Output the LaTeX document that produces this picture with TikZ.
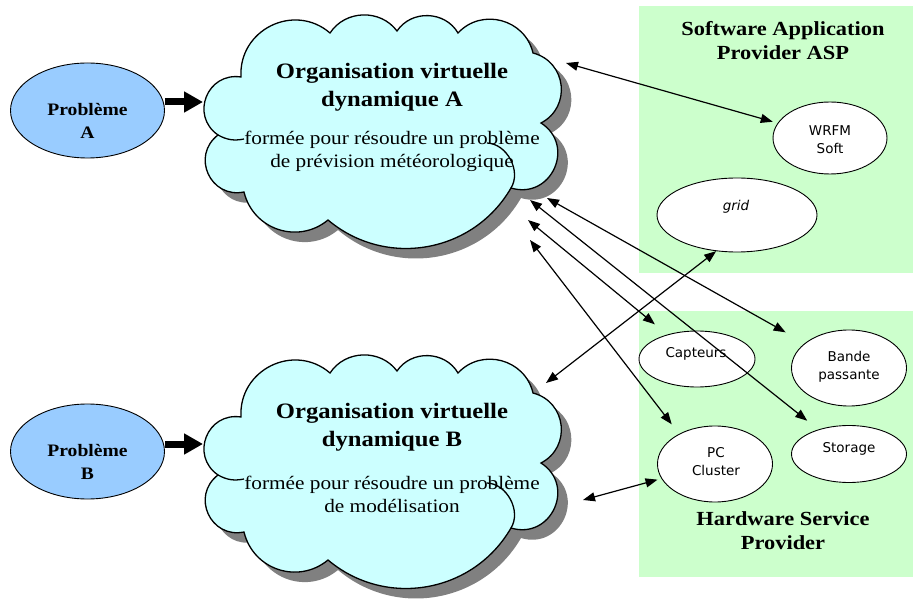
\documentclass[tikz,border=0pt]{standalone}
\usepackage{fontspec}
\setmainfont{Liberation Serif}[FakeStretch=1.12]
\newfontfamily\labelsans{DejaVu Sans}
\usetikzlibrary{arrows.meta,shapes.geometric}

\definecolor{probfill}{HTML}{99CCFF}
\definecolor{cloudfill}{HTML}{CCFFFF}
\definecolor{panelfill}{HTML}{CCFFCC}
\definecolor{shadowgray}{HTML}{808080}
\definecolor{cloudink}{HTML}{000000}

\begin{document}
\begin{tikzpicture}[x=1pt,y=1pt,
  probell/.style={ellipse, draw, line width=0.9pt, fill=probfill,
    minimum width=154pt, minimum height=95pt, inner sep=0pt},
  part/.style={ellipse, draw, line width=0.9pt, fill=white, inner sep=0pt},
  partlabel/.style={font=\labelsans\fontsize{13.5}{18}\selectfont, align=center, inner sep=0pt},
  cloudtitle/.style={font=\bfseries\fontsize{22}{28}\selectfont, align=center, inner sep=0pt},
  cloudtext/.style={font=\fontsize{19}{23}\selectfont, align=center, inner sep=0pt},
  paneltitle/.style={font=\bfseries\fontsize{20}{24.5}\selectfont, align=center, inner sep=0pt},
  problabel/.style={font=\bfseries\fontsize{17.5}{23}\selectfont, align=center, inner sep=0pt},
  link/.style={{Triangle[length=12pt,width=9pt]}-{Triangle[length=12pt,width=9pt]}, line width=1.2pt},
  feed/.style={-{Triangle[length=19pt,width=20pt]}, line width=7pt},
  cloudedge/.style={draw=cloudink, line width=1.3pt},
]
\useasboundingbox (0,0) rectangle (913,-601);

% provider panels
\fill[panelfill] (639,-6) rectangle (913,-273);
\fill[panelfill] (639,-311) rectangle (913,-577);
\node[paneltitle] (asp) at (783,-40.5) {Software Application\\Provider ASP};
\node[paneltitle] (hsp) at (783,-530.5) {Hardware Service\\Provider};

% software resources
\node[part, minimum width=114pt, minimum height=72pt] (wrfm) at (830,-138) {};
\node[partlabel] (wrfm-t) at (830,-140) {WRFM\\Soft};
\node[part, minimum width=160pt, minimum height=74pt] (grid) at (737,-215) {};
\node[partlabel, font=\labelsans\itshape\fontsize{13.5}{18}\selectfont] (grid-t) at (736,-207) {grid};

% hardware resources
\node[part, minimum width=116pt, minimum height=56pt] (capt) at (697,-359) {};
\node[partlabel] (capt-t) at (696,-354) {Capteurs};
\node[part, minimum width=115pt, minimum height=76pt] (bande) at (849,-368) {};
\node[partlabel] (bande-t) at (849,-366.5) {Bande\\passante};
\node[part, minimum width=115pt, minimum height=76pt] (pc) at (715,-464) {};
\node[partlabel] (pc-t) at (716,-461.5) {PC\\Cluster};
\node[part, minimum width=115pt, minimum height=57pt] (stor) at (849,-454) {};
\node[partlabel] (stor-t) at (849,-449) {Storage};

% the two organisation clouds: shadow, body, then outline and inner strokes
\foreach \dy in {0,-340} {
  \begin{scope}[yshift=\dy]
    \fill[shadowgray, shift={(10,-10)}]
      (218,-135) to[bend left=77,looseness=1.4] (241,-77)
      to[bend left=67,looseness=1.22] (330,-33)
      to[bend left=55,looseness=1.06] (397,-31)
      to[bend left=58,looseness=1.08] (458,-33)
      to[bend left=62,looseness=1.15] (533,-53)
      to[bend left=69,looseness=1.26] (541,-123)
      to[bend left=82,looseness=1.5] (511,-188)
      to[bend left=50,looseness=1.04] (328,-220)
      to[bend left=58,looseness=1.12] (244,-192)
      to[bend left=77,looseness=1.4] (218,-135) -- cycle;
    \path[fill=cloudfill, cloudedge]
      (218,-135) to[bend left=77,looseness=1.4] (241,-77)
      to[bend left=67,looseness=1.22] (330,-33)
      to[bend left=55,looseness=1.06] (397,-31)
      to[bend left=58,looseness=1.08] (458,-33)
      to[bend left=62,looseness=1.15] (533,-53)
      to[bend left=69,looseness=1.26] (541,-123)
      to[bend left=82,looseness=1.5] (511,-188)
      to[bend left=50,looseness=1.04] (328,-220)
      to[bend left=58,looseness=1.12] (244,-192)
      to[bend left=77,looseness=1.4] (218,-135) -- cycle;
    \path[cloudedge] (218,-135) to[bend right=20] (244,-139);
    \path[cloudedge] (487,-143) to[bend left=60] (511,-188);
  \end{scope}
}

% organisation A
\node[cloudtitle] (voA-t) at (392,-87) {Organisation virtuelle\\dynamique A};
\node[cloudtext] (voA-s) at (392,-151.5) {formée pour résoudre un problème\\de prévision météorologique};
\coordinate (cA-w) at (203,-102);
\coordinate (cA-wr) at (566,-63);
\coordinate (cA-b1) at (547,-198);
\coordinate (cA-b2) at (530,-200);
\coordinate (cA-b3) at (528,-220);
\coordinate (cA-b4) at (530,-240);
\node[probell] (pA) at (87.5,-110.5) {};
\node[problabel] (pA-t) at (87.5,-120.5) {Problème\\A};

% organisation B
\node[cloudtitle] (voB-t) at (392,-427.5) {Organisation virtuelle\\dynamique B};
\node[cloudtext] (voB-s) at (392,-494) {formée pour résoudre un problème\\de modélisation};
\coordinate (cB-w) at (203,-444);
\coordinate (cB-g) at (546,-383);
\coordinate (cB-pc) at (583,-500);
\node[probell] (pB) at (87.5,-451.5) {};
\node[problabel] (pB-t) at (87.5,-462) {Problème\\B};

% problems feeding the organisations
\draw[feed] (cA-w -| pA.east) -- (cA-w);
\draw[feed] (cB-w -| pB.east) -- (cB-w);

% resource links
\draw[link, shorten >=5pt] (cA-wr) -- (wrfm);
\draw[link, shorten >=22pt] (cA-b1) -- (bande);
\draw[link, shorten >=14pt] (cA-b2) -- (stor);
\draw[link, shorten >=16pt] (cA-b3) -- (capt);
\draw[link, shorten >=12pt] (cA-b4) -- (pc.140);
\draw[link] (cB-g) -- (grid.240);
\draw[link, shorten >=4pt] (cB-pc) -- (pc);
\end{tikzpicture}
\end{document}
